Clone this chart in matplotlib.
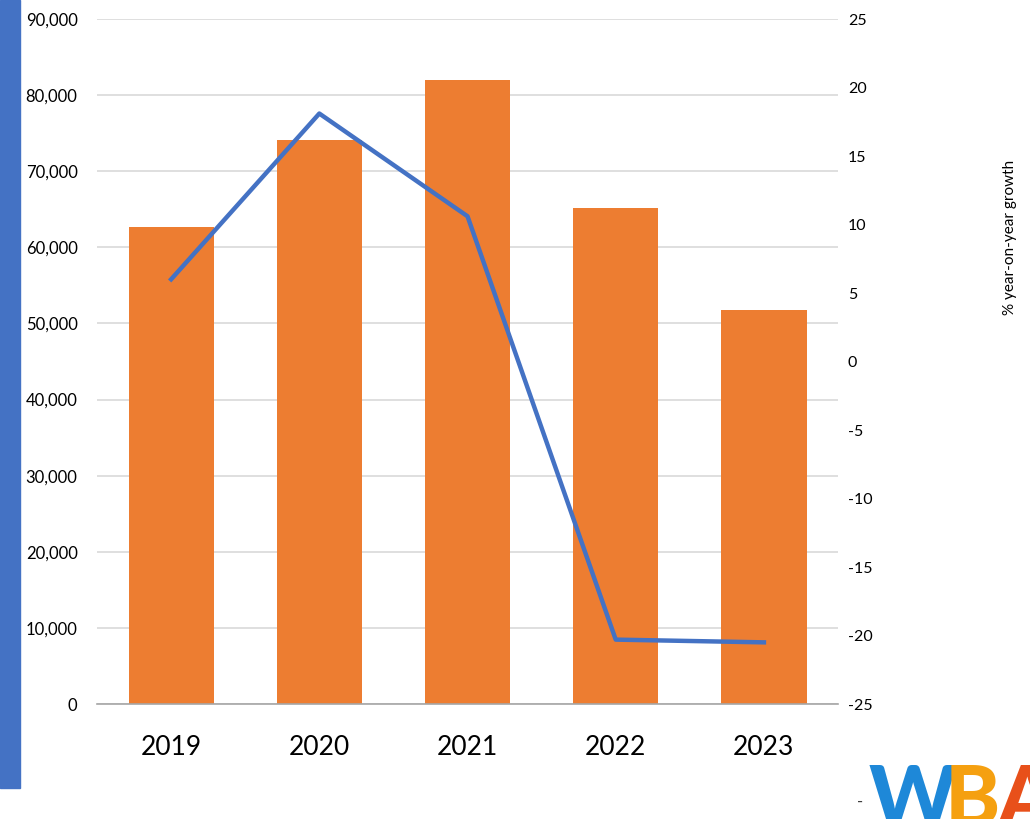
import matplotlib.pyplot as plt
from matplotlib.patches import Rectangle
from matplotlib.ticker import FuncFormatter
import numpy as np

years = ['2019', '2020', '2021', '2022', '2023']
volume = [62700, 74100, 82000, 65200, 51800]
growth = [6.0, 18.1, 10.6, -20.3, -20.5]

plt.rcParams['font.family'] = ['Lato', 'DejaVu Sans']
plt.rcParams['axes.unicode_minus'] = False

fig = plt.figure(figsize=(10.3, 8.19), dpi=100)
ax = fig.add_axes([0.0942, 0.1404, 0.7194, 0.8364])

x = np.arange(len(years))
ax.bar(x, volume, width=0.575, color='#ED7D31', zorder=2)
ax.set_xlim(-0.5, len(years) - 0.5)
ax.set_ylim(0, 90000)
ax.set_yticks(np.arange(0, 90001, 10000))
ax.yaxis.set_major_formatter(FuncFormatter(lambda v, pos: '{:,.0f}'.format(v)))
ax.grid(axis='y', color='#D9D9D9', linewidth=1.2, zorder=0)
ax.set_xticks(x)
ax.set_xticklabels(years, fontsize=19)
ax.tick_params(axis='x', length=0, pad=22)
ax.tick_params(axis='y', length=0, labelsize=12, pad=14)
for s in ['top', 'right', 'left']:
    ax.spines[s].set_visible(False)
ax.spines['bottom'].set_color('#A6A6A6')
ax.spines['bottom'].set_linewidth(1.2)

ax2 = ax.twinx()
ax2.plot(x, growth, color='#4472C4', linewidth=3.2, zorder=3)
ax2.set_ylim(-25, 25)
ax2.set_yticks(np.arange(-25, 26, 5))
ax2.tick_params(axis='y', length=0, labelsize=11.5, pad=7)
for s in ['top', 'right', 'left', 'bottom']:
    ax2.spines[s].set_visible(False)
fig.text(0.981, 0.71, '% year-on-year growth', rotation=90,
         ha='center', va='center', fontsize=11)

# blue strip on the left edge
fig.patches.append(Rectangle((0, 31 / 819), 20 / 1030, 1 - 31 / 819,
                             transform=fig.transFigure, color='#4472C4'))

# logo
fig.text(0.832, 0.015, '-', fontsize=12, color='#404040')
fig.text(0.843, -0.008, 'W', fontsize=60, fontweight='black', color='#1E88D8')
fig.text(0.917, -0.008, 'B', fontsize=60, fontweight='black', color='#F5A010')
fig.text(0.969, -0.008, 'A', fontsize=60, fontweight='black', color='#E8501A')

fig.savefig('out.png', dpi=100)
